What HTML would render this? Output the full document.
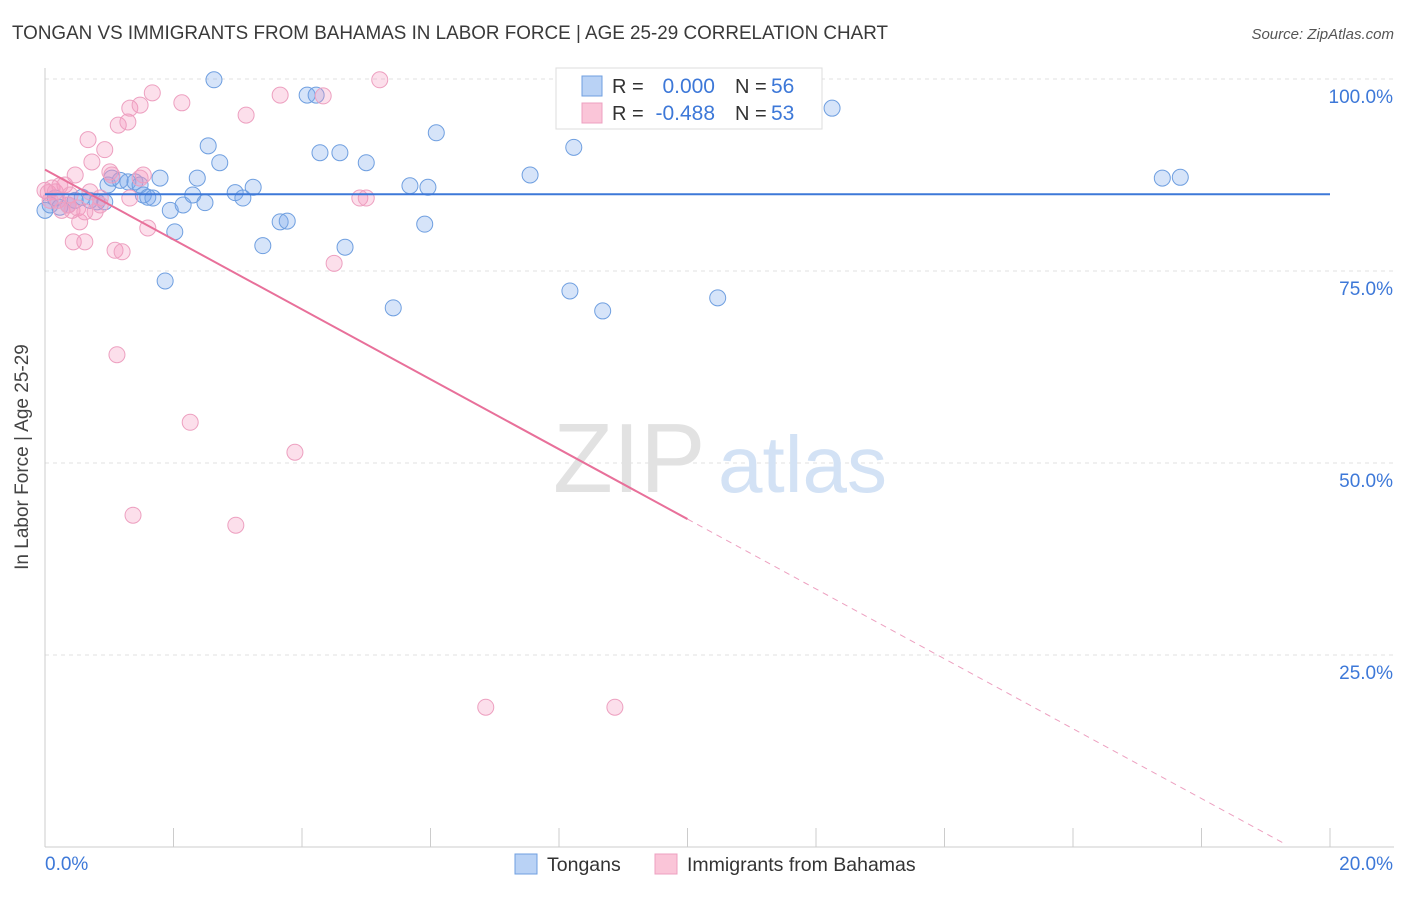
<!DOCTYPE html>
<html><head><meta charset="utf-8"><style>
body{margin:0;background:#fff;font-family:"Liberation Sans",sans-serif;}
svg text{font-family:"Liberation Sans",sans-serif;}
</style></head><body>
<svg id="chart" width="1406" height="892">
<text x="12" y="39" font-size="19.5" fill="#3a3a3a" textLength="876" lengthAdjust="spacingAndGlyphs">TONGAN VS IMMIGRANTS FROM BAHAMAS IN LABOR FORCE | AGE 25-29 CORRELATION CHART</text>
<text x="1394" y="39" font-size="15" fill="#555" font-style="italic" text-anchor="end">Source: ZipAtlas.com</text>
<g id="grid"></g>
<text x="553" y="492" font-size="98" fill="#e2e2e2" font-family="Liberation Serif">ZIP</text>
<text x="718" y="492" font-size="80" fill="#d3e2f5">atlas</text>
<g id="axes"></g>
<g id="marks"></g>
<text x="28" y="457" font-size="19" fill="#444" text-anchor="middle" transform="rotate(-90 28 457)">In Labor Force | Age 25-29</text>
<g>
<rect x="556" y="68" width="266" height="61" fill="#fff" stroke="#ddd"/>
<rect x="582" y="76" width="20" height="20" fill="#b9d2f5" stroke="#6f9fe0"/>
<rect x="582" y="103" width="20" height="20" fill="#fac5d8" stroke="#eda0c0"/>
<text x="612" y="93" font-size="20" fill="#333">R =</text>
<text x="715" y="93" font-size="21" fill="#3d78d8" text-anchor="end">0.000</text>
<text x="735" y="93" font-size="20" fill="#333">N =</text>
<text x="771" y="93" font-size="21" fill="#3d78d8">56</text>
<text x="612" y="120" font-size="20" fill="#333">R =</text>
<text x="715" y="120" font-size="21" fill="#3d78d8" text-anchor="end">-0.488</text>
<text x="735" y="120" font-size="20" fill="#333">N =</text>
<text x="771" y="120" font-size="21" fill="#3d78d8">53</text>
</g>
<g>
<rect x="515" y="854" width="22" height="20" fill="#b9d2f5" stroke="#6f9fe0"/>
<text x="547" y="871" font-size="19.5" fill="#333">Tongans</text>
<rect x="655" y="854" width="22" height="20" fill="#fac5d8" stroke="#eda0c0"/>
<text x="687" y="871" font-size="19.5" fill="#333">Immigrants from Bahamas</text>
</g>
</svg>
<script>
const blueX=[0,0.08,0.16,0.23,0.36,0.47,0.58,0.70,0.81,0.93,0.98,1.04,1.17,1.29,1.40,1.48,1.53,1.60,1.68,1.79,1.95,2.02,2.15,1.87,2.30,2.37,2.49,2.54,2.63,2.72,2.96,3.08,3.24,3.39,3.66,3.77,4.08,4.22,4.28,4.59,4.67,5.00,5.42,5.68,5.91,5.96,6.09,7.55,8.17,8.23,8.68,10.47,12.25,17.39,17.67];
const blueY=[82.9,83.6,84.5,83.3,83.6,84.2,84.6,84.2,84.0,84.0,86.2,87.1,86.8,86.6,86.6,86.2,84.9,84.6,84.5,87.1,82.9,80.1,83.6,73.7,84.9,87.1,83.9,91.3,99.9,89.1,85.2,84.5,85.9,78.3,81.4,81.5,97.9,97.9,90.4,90.4,78.1,89.1,70.2,86.1,81.1,85.9,93.0,87.5,72.4,91.1,69.8,71.5,96.2,87.1,87.2];
const pinkX=[0,0.05,0.11,0.16,0.20,0.26,0.31,0.36,0.42,0.47,0.51,0.54,0.44,0.62,0.67,0.70,0.73,0.78,0.86,0.93,1.01,1.09,1.14,1.12,1.20,1.29,1.32,1.37,1.48,1.53,1.60,1.67,2.13,2.26,2.97,3.13,3.66,3.89,4.33,4.50,4.90,5.00,5.21,6.86,8.87,1.32,0.23,0.08,0.39,0.86,1.04,1.48,0.62];
const pinkY=[85.5,85.2,85.8,85.3,84.2,82.9,86.2,83.6,82.9,87.5,83.2,81.4,78.8,78.8,92.1,85.3,89.2,82.7,84.5,90.8,87.9,77.7,94.0,64.1,77.5,94.4,96.2,43.2,96.6,87.5,80.6,98.2,96.9,55.3,41.9,95.3,97.9,51.4,97.8,76.0,84.5,84.5,99.9,18.2,18.2,84.5,86.1,84.2,84.9,83.6,87.5,87.1,82.7];
const blueTrend=[85.0,85.0];
const pinkTrend=[88.2,42.7,0.3];
const pinkTrendX=[0,10,19.32];
const yTicks=[100,75,50,25];
const yTickLabels=["100.0%","75.0%","50.0%","25.0%"];
const NS="http://www.w3.org/2000/svg";
const X=v=>45+v*64.25, Y=v=>847-v*7.68;
function mk(p,t,a){const e=document.createElementNS(NS,t);for(const k in a)e.setAttribute(k,a[k]);p.appendChild(e);return e;}
const grid=document.getElementById('grid'),axes=document.getElementById('axes'),marks=document.getElementById('marks');
yTicks.forEach((v,i)=>{
 const l=mk(grid,'line',{x1:45,x2:1394,y1:Y(v),y2:Y(v),stroke:'#e0e0e0','stroke-dasharray':'4 4'});
 
 
 const t=mk(axes,'text',{x:1393,y:Y(v)+24,'font-size':19,fill:'#3d78d8','text-anchor':'end'});
 t.textContent=yTickLabels[i];
 
 
});
mk(axes,'line',{x1:45,x2:45,y1:68,y2:847,stroke:'#ccc'});
mk(axes,'line',{x1:45,x2:1394,y1:847,y2:847,stroke:'#ccc'});
for(let i=0;i<=10;i++){const tk=mk(axes,'line',{x1:X(i*2),x2:X(i*2),y1:828,y2:847,stroke:'#ccc'});
 
 }
const x0=mk(axes,'text',{x:45,y:870,'font-size':19,fill:'#3d78d8'});x0.textContent='0.0%';


const x1=mk(axes,'text',{x:1393,y:870,'font-size':19,fill:'#3d78d8','text-anchor':'end'});x1.textContent='20.0%';


blueX.forEach((v,i)=>{const c=mk(marks,'circle',{cx:X(v),cy:Y(blueY[i]),r:8,fill:'rgba(120,165,235,0.3)',stroke:'#6f9fe0','stroke-width':1});
 
 });
pinkX.forEach((v,i)=>{const c=mk(marks,'circle',{cx:X(v),cy:Y(pinkY[i]),r:8,fill:'rgba(245,150,190,0.3)',stroke:'#eda0c0','stroke-width':1});
 
 });
const bl=mk(marks,'line',{x1:X(0),x2:X(20),y1:Y(blueTrend[0]),y2:Y(blueTrend[1]),stroke:'#3d78d8','stroke-width':2});


const pl=mk(marks,'line',{x1:X(pinkTrendX[0]),x2:X(pinkTrendX[1]),y1:Y(pinkTrend[0]),y2:Y(pinkTrend[1]),stroke:'#e8709a','stroke-width':2});


const pd=mk(marks,'line',{x1:X(pinkTrendX[1]),x2:X(pinkTrendX[2]),y1:Y(pinkTrend[1]),y2:Y(pinkTrend[2]),stroke:'#eda0c0','stroke-width':1,'stroke-dasharray':'6 5'});


</script>
</body></html>
